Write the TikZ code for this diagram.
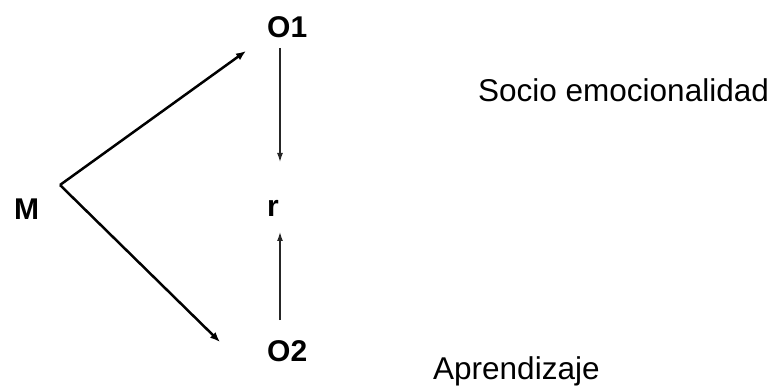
\documentclass[tikz,border=0pt]{standalone}
\usepackage{fontspec}
\setmainfont{Liberation Sans}
\usetikzlibrary{arrows.meta}
\tikzset{
  var/.style={anchor=base west,inner sep=0pt,font=\fontsize{30}{32}\selectfont\bfseries},
  lbl/.style={anchor=base west,inner sep=0pt,font=\fontsize{31.5}{36}\selectfont},
  bigarrow/.style={line width=2.5pt,-{Latex[length=10pt,width=8pt]}},
  smallarrow/.style={line width=1.3pt,black!85,-{Latex[length=9pt,width=6pt]}}
}
\begin{document}
\begin{tikzpicture}[x=1pt,y=-1pt]
  \useasboundingbox (0,0) rectangle (776,387);
  \node[var] (M) at (14,220) {M};
  \node[var] (O1) at (267,38) {O1};
  \node[var] (r) at (267,217) {r};
  \node[var] (O2) at (267,361) {O2};
  \node[lbl] (socio) at (478,102) {Socio emocionalidad};
  \node[lbl] (apr) at (433,379) {Aprendizaje};
  % ends of the arrows
  \coordinate (v) at (60,185);
  \coordinate (t1) at (246,51);
  \coordinate (t2) at (220,342);
  \coordinate (a1) at (280,48);
  \coordinate (b1) at (280,162);
  \coordinate (a2) at (280,320);
  \coordinate (b2) at (280,232);
  \draw[bigarrow] (v) -- (t1);
  \draw[bigarrow] (v) -- (t2);
  \draw[smallarrow] (a1) -- (b1);
  \draw[smallarrow] (a2) -- (b2);
\end{tikzpicture}
\end{document}
